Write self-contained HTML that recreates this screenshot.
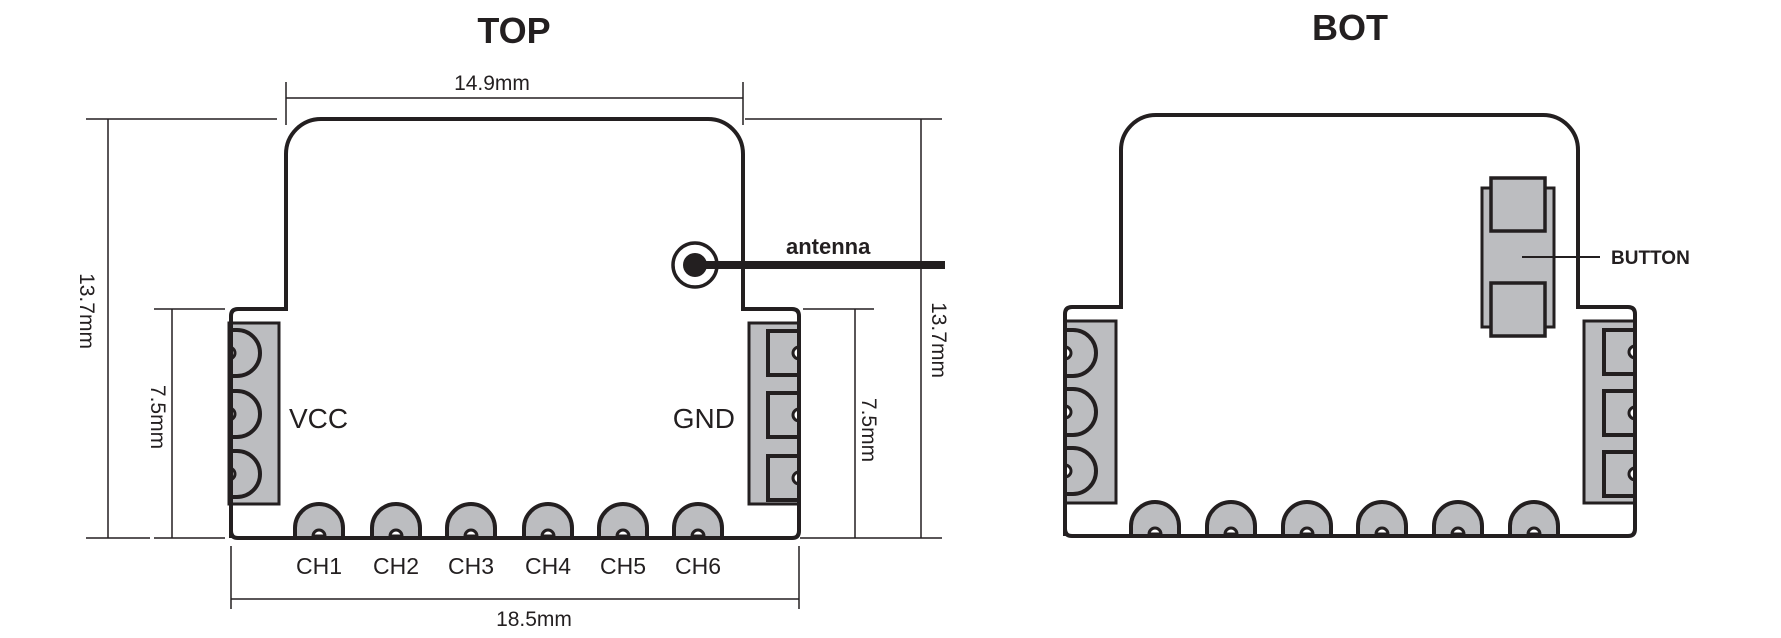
<!DOCTYPE html>
<html><head><meta charset="utf-8"><style>
html,body{margin:0;padding:0;background:#fff;}
svg{display:block;}
text{font-family:"Liberation Sans",Arial,sans-serif;fill:#231f20;}
</style></head><body>
<svg width="1781" height="638" viewBox="0 0 1781 638" xmlns="http://www.w3.org/2000/svg">
<defs>
<g id="dpad"><path d="M0,-23 H8 A23 23 0 0 1 8 23 H0" fill="#bcbdc0" stroke="#231f20" stroke-width="4"/><path d="M0,-6 A6 6 0 0 1 0 6 Z" fill="#fff" stroke="#231f20" stroke-width="3"/></g>
<g id="bpad"><path d="M-24,0 V-8 A24 24 0 0 1 24 -8 V0" fill="#bcbdc0" stroke="#231f20" stroke-width="4"/><path d="M-6,0 A6 6 0 0 1 6 0 Z" fill="#fff" stroke="#231f20" stroke-width="3"/></g>
<g id="rpad"><rect x="-31" y="-22" width="31" height="44" fill="#bcbdc0" stroke="#231f20" stroke-width="4"/><path d="M0,-6 A6 6 0 0 0 0 6 Z" fill="#fff" stroke="#231f20" stroke-width="3"/></g>
</defs>

<!-- TOP -->
<text x="514" y="43" font-size="36" font-weight="bold" text-anchor="middle">TOP</text>
<g stroke="#231f20" stroke-width="1.5" fill="none">
<line x1="286" y1="82" x2="286" y2="125"/><line x1="743" y1="82" x2="743" y2="125"/>
<line x1="286" y1="98" x2="743" y2="98"/>
<line x1="86" y1="119" x2="277" y2="119"/><line x1="86" y1="538" x2="150" y2="538"/><line x1="154" y1="538" x2="225" y2="538"/>
<line x1="108" y1="119" x2="108" y2="538"/>
<line x1="154" y1="309" x2="225" y2="309"/><line x1="172" y1="309" x2="172" y2="538"/>
<line x1="745" y1="119" x2="942" y2="119"/><line x1="800" y1="538" x2="942" y2="538"/>
<line x1="921" y1="119" x2="921" y2="538"/>
<line x1="803" y1="309" x2="874" y2="309"/><line x1="855" y1="309" x2="855" y2="538"/>
<line x1="231" y1="546" x2="231" y2="609"/><line x1="799" y1="546" x2="799" y2="609"/>
<line x1="231" y1="599" x2="799" y2="599"/>
</g>
<text x="492" y="90" font-size="21" text-anchor="middle">14.9mm</text>
<text x="534" y="626" font-size="21" text-anchor="middle">18.5mm</text>
<text transform="translate(80,311) rotate(90)" font-size="21" text-anchor="middle">13.7mm</text>
<text transform="translate(151,417) rotate(90)" font-size="21" text-anchor="middle">7.5mm</text>
<text transform="translate(932,340) rotate(90)" font-size="21" text-anchor="middle">13.7mm</text>
<text transform="translate(862,430) rotate(90)" font-size="21" text-anchor="middle">7.5mm</text>

<path d="M231,538 V316 Q231,309 238,309 H286 V154 A35 35 0 0 1 321,119 H708 A35 35 0 0 1 743,154 V309 H792 Q799,309 799,316 V531 Q799,538 792,538 H238 Q231,538 231,531 Z" fill="#fff"/>
<rect x="229" y="323" width="50" height="181" fill="#bcbdc0" stroke="#231f20" stroke-width="3"/>
<use href="#dpad" x="229" y="353"/><use href="#dpad" x="229" y="414"/><use href="#dpad" x="229" y="474"/>
<rect x="749" y="323" width="50" height="181" fill="#bcbdc0" stroke="#231f20" stroke-width="3"/>
<use href="#rpad" x="799" y="353"/><use href="#rpad" x="799" y="415"/><use href="#rpad" x="799" y="478"/>
<use href="#bpad" x="319" y="536"/><use href="#bpad" x="396" y="536"/><use href="#bpad" x="471" y="536"/><use href="#bpad" x="548" y="536"/><use href="#bpad" x="623" y="536"/><use href="#bpad" x="698" y="536"/>
<path d="M231,538 V316 Q231,309 238,309 H286 V154 A35 35 0 0 1 321,119 H708 A35 35 0 0 1 743,154 V309 H792 Q799,309 799,316 V531 Q799,538 792,538 H238 Q231,538 231,531 Z" fill="none" stroke="#231f20" stroke-width="4"/>

<text x="289" y="428" font-size="28">VCC</text>
<text x="735" y="428" font-size="28" text-anchor="end">GND</text>
<g font-size="23" text-anchor="middle">
<text x="319" y="574">CH1</text><text x="396" y="574">CH2</text><text x="471" y="574">CH3</text><text x="548" y="574">CH4</text><text x="623" y="574">CH5</text><text x="698" y="574">CH6</text>
</g>
<circle cx="695" cy="265" r="22" fill="#fff" stroke="#231f20" stroke-width="3.5"/>
<circle cx="695" cy="265" r="12" fill="#231f20"/>
<line x1="695" y1="265" x2="945" y2="265" stroke="#231f20" stroke-width="8"/>
<text x="786" y="254" font-size="22" font-weight="bold">antenna</text>

<!-- BOT -->
<text x="1350" y="40" font-size="36" font-weight="bold" text-anchor="middle">BOT</text>
<path d="M1065,536 V314 Q1065,307 1072,307 H1121 V150 A35 35 0 0 1 1156,115 H1543 A35 35 0 0 1 1578,150 V307 H1628 Q1635,307 1635,314 V529 Q1635,536 1628,536 H1072 Q1065,536 1065,529 Z" fill="#fff"/>
<rect x="1065" y="321" width="51" height="182" fill="#bcbdc0" stroke="#231f20" stroke-width="3"/>
<use href="#dpad" x="1065" y="353"/><use href="#dpad" x="1065" y="412"/><use href="#dpad" x="1065" y="471"/>
<rect x="1584" y="321" width="51" height="182" fill="#bcbdc0" stroke="#231f20" stroke-width="3"/>
<use href="#rpad" x="1635" y="352"/><use href="#rpad" x="1635" y="413"/><use href="#rpad" x="1635" y="474"/>
<use href="#bpad" x="1155" y="534"/><use href="#bpad" x="1231" y="534"/><use href="#bpad" x="1307" y="534"/><use href="#bpad" x="1382" y="534"/><use href="#bpad" x="1458" y="534"/><use href="#bpad" x="1534" y="534"/>
<rect x="1482" y="188" width="72" height="139" fill="#bcbdc0" stroke="#231f20" stroke-width="3"/>
<rect x="1491" y="178" width="54" height="53" fill="#bcbdc0" stroke="#231f20" stroke-width="3.5"/>
<rect x="1491" y="283" width="54" height="53" fill="#bcbdc0" stroke="#231f20" stroke-width="3.5"/>
<path d="M1065,536 V314 Q1065,307 1072,307 H1121 V150 A35 35 0 0 1 1156,115 H1543 A35 35 0 0 1 1578,150 V307 H1628 Q1635,307 1635,314 V529 Q1635,536 1628,536 H1072 Q1065,536 1065,529 Z" fill="none" stroke="#231f20" stroke-width="4"/>
<line x1="1522" y1="257" x2="1600" y2="257" stroke="#231f20" stroke-width="2"/>
<text x="1611" y="264" font-size="19" font-weight="bold">BUTTON</text>
</svg>
</body></html>
